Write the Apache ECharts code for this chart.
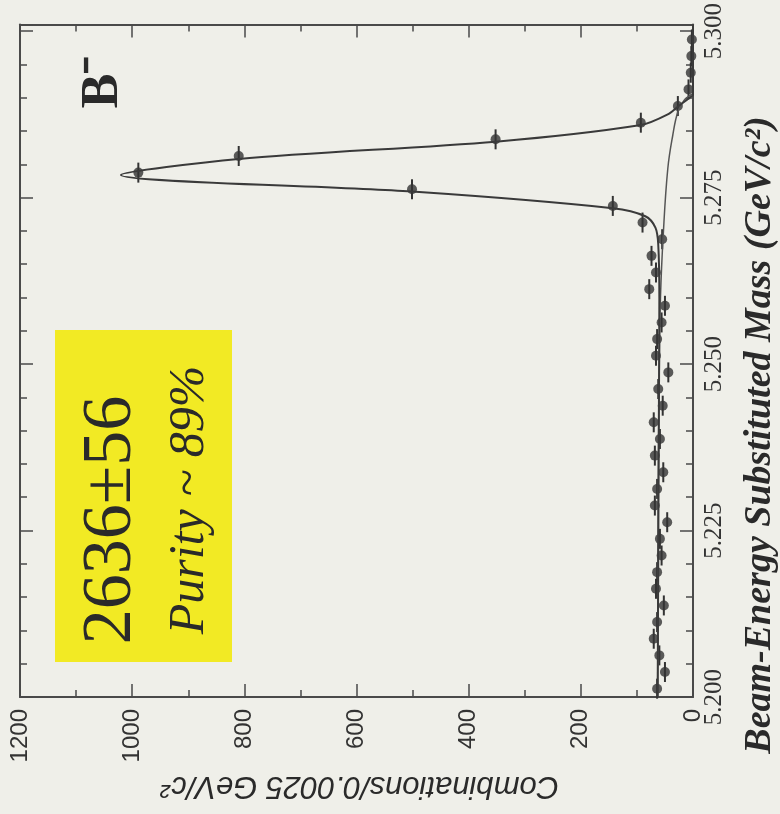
<!DOCTYPE html>
<html>
<head>
<meta charset="utf-8">
<script src="https://cdn.jsdelivr.net/npm/echarts@6/dist/echarts.min.js"></script>
<style>
  html, body { margin: 0; padding: 0; background: #efefe9; }
  #chart { width: 780px; height: 814px; }
</style>
</head>
<body>
<div id="chart"></div>
<script>
// bin centres (GeV/c^2) and combinations per bin
var binMass = [5.20125, 5.20375, 5.20625, 5.20875, 5.21125, 5.21375, 5.21625, 5.21875,
  5.22125, 5.22375, 5.22625, 5.22875, 5.23125, 5.23375, 5.23625, 5.23875,
  5.24125, 5.24375, 5.24625, 5.24875, 5.25125, 5.25375, 5.25625, 5.25875,
  5.26125, 5.26375, 5.26625, 5.26875, 5.27125, 5.27375, 5.27625, 5.27875,
  5.28125, 5.28375, 5.28625, 5.28875, 5.29125, 5.29375, 5.29625, 5.29875];
var binCount = [64, 50, 60, 70, 64, 52, 66, 64,
  56, 59, 46, 68, 64, 53, 68, 59,
  70, 54, 62, 44, 66, 64, 56, 50,
  78, 66, 74, 55, 90, 143, 501, 989,
  810, 352, 93, 27, 8, 4, 3, 2];

// total fit
var fitMass  = [5.2000, 5.2200, 5.2400, 5.2600, 5.2680, 5.2705, 5.2722, 5.2734, 5.2759, 5.2784,
  5.2808, 5.2834, 5.2859, 5.2875, 5.2888, 5.2900, 5.2905, 5.3010];
var fitCount = [63, 62, 61, 60, 62, 67, 85, 143, 501, 1020,
  810, 352, 93, 45, 25, 6, 0, 0];

// background component
var bkgMass  = [5.2000, 5.2300, 5.2500, 5.2600, 5.2695, 5.2793, 5.2844, 5.2879, 5.2896, 5.2903, 5.2906];
var bkgCount = [63, 62, 60, 58, 53, 45, 36, 27, 16, 6, 0];

var countTicks = [0, 200, 400, 600, 800, 1000, 1200];

var frameColor = '#4a4a4a';
var ink = '#2a2a2a';

function pairs(m, c) {
  var out = [];
  for (var i = 0; i < m.length; i++) out.push([c[i], m[i]]);
  return out;
}

var chart = echarts.init(document.getElementById('chart'));

function countAxis(pos, labels) {
  return {
    type: 'value', position: pos, inverse: true,
    min: countTicks[0], max: countTicks[countTicks.length - 1], interval: 200,
    axisLine: { show: true, onZero: false, lineStyle: { color: frameColor, width: 2 } },
    axisTick: { show: true, inside: true, length: 13, lineStyle: { color: frameColor, width: 1.5 } },
    minorTick: { show: true, splitNumber: 2, length: 7, lineStyle: { color: frameColor, width: 1.5 } },
    splitLine: { show: false },
    axisLabel: {
      show: labels, rotate: 90, margin: 12,
      fontFamily: 'Liberation Sans', fontSize: 24, color: '#333',
      formatter: function (v) { return String(v); }
    }
  };
}

function massAxis(pos, labels) {
  return {
    type: 'value', position: pos,
    min: 5.2, max: 5.301, interval: 0.025,
    axisLine: { show: true, onZero: false, lineStyle: { color: frameColor, width: 2 } },
    axisTick: { show: true, inside: true, length: 13, lineStyle: { color: frameColor, width: 1.5 } },
    minorTick: { show: true, splitNumber: 5, length: 7, lineStyle: { color: frameColor, width: 1.5 } },
    splitLine: { show: false },
    axisLabel: {
      show: labels, rotate: 90, margin: 9,
      fontFamily: 'Liberation Serif', fontSize: 25, color: '#333',
      formatter: function (v) {
        var k = v * 40;
        return Math.abs(k - Math.round(k)) < 1e-6 ? v.toFixed(3) : '';
      }
    }
  };
}

var option = {
  backgroundColor: '#efefe9',
  animation: false,
  grid: { left: 20, right: 87, top: 24, bottom: 117 },
  xAxis: [countAxis('bottom', true), countAxis('top', false)],
  yAxis: [massAxis('right', true), massAxis('left', false)],
  graphic: [
    { type: 'rect', z: 0, shape: { x: 55, y: 330, width: 177, height: 332 },
      style: { fill: '#f2ea24' } },
    { type: 'text', x: 112, y: 520, rotation: Math.PI / 2,
      style: { text: '2636\u00b156', font: '70px "Liberation Serif"', fill: ink,
               align: 'center', verticalAlign: 'middle' } },
    { type: 'text', x: 190, y: 500, rotation: Math.PI / 2,
      style: { text: 'Purity ~ 89%', font: 'italic 50px "Liberation Serif"', fill: ink,
               align: 'center', verticalAlign: 'middle' } },
    { type: 'text', x: 104, y: 82, rotation: Math.PI / 2,
      style: { text: 'B\u207b', font: 'bold 52px "Liberation Serif"', fill: ink,
               align: 'center', verticalAlign: 'middle' } },
    { type: 'text', x: 760, y: 435, rotation: Math.PI / 2,
      style: { text: 'Beam-Energy Substituted Mass (GeV/c\u00b2)',
               font: 'italic bold 38px "Liberation Serif"', fill: ink,
               align: 'center', verticalAlign: 'middle' } },
    { type: 'text', x: 360, y: 786, rotation: Math.PI,
      style: { text: 'Combinations/0.0025 GeV/c\u00b2',
               font: 'italic 31px "Liberation Sans"', fill: ink,
               align: 'center', verticalAlign: 'middle' } }
  ],
  series: [
    {
      name: 'background', type: 'line', smooth: 0.4, symbol: 'none',
      data: pairs(bkgMass, bkgCount),
      lineStyle: { color: '#555', width: 1.5 }
    },
    {
      name: 'fit', type: 'line', smooth: 0.3, symbol: 'none',
      data: pairs(fitMass, fitCount),
      lineStyle: { color: '#3a3a3a', width: 2 }
    },
    {
      name: 'bin width', type: 'custom',
      data: pairs(binMass, binCount),
      renderItem: function (params, api) {
        var p = api.coord([api.value(0), api.value(1)]);
        return {
          type: 'line',
          shape: { x1: p[0], y1: p[1] - 10, x2: p[0], y2: p[1] + 10 },
          style: { stroke: '#333', lineWidth: 2 }
        };
      }
    },
    {
      name: 'data', type: 'scatter', symbol: 'circle', symbolSize: 10,
      data: pairs(binMass, binCount),
      itemStyle: { color: '#333' }
    }
  ]
};

chart.setOption(option);
window.addEventListener('resize', chart.resize);
</script>
</body>
</html>
